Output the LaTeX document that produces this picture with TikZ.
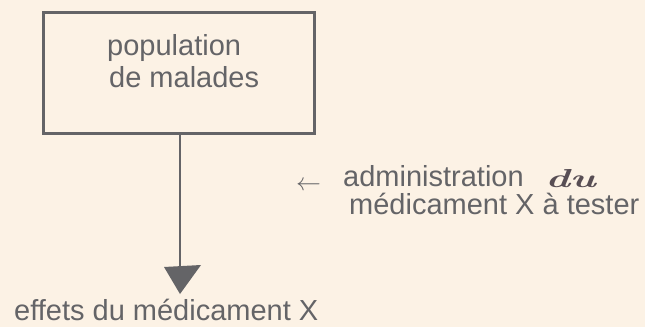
\documentclass[tikz,border=0pt]{standalone}
\usepackage{fontspec}
\setmainfont{Liberation Sans}
\newfontfamily\handfont{Latin Modern Roman}
\definecolor{paper}{RGB}{252,242,229}
\definecolor{ink}{RGB}{100,100,103}
\definecolor{pen}{RGB}{88,78,84}
\begin{document}
\begin{tikzpicture}[x=1pt,y=-1pt,
  label/.style={anchor=base west,inner sep=0pt,text=ink,font=\fontsize{29}{34}\selectfont},
  frame/.style={draw=ink,line width=3pt},
  flow/.style={draw=ink,line width=2.2pt}]
  % paper background fixes the picture size
  \fill[paper] (0,0) rectangle (645,327);
  \useasboundingbox (0,0) rectangle (645,327);

  % population box
  \node[frame,minimum width=271pt,minimum height=121pt,anchor=north west,inner sep=0pt] (pop) at (42,11) {};
  \node[label] (t1) at (107,55) {population};
  \node[label] (t2) at (109,87) {de malades};

  % effects label and arrow
  \node[label] (eff) at (14,320) {effets du médicament X};
  \coordinate (tip) at (180,294);
  \coordinate (neck) at (180,268);
  \draw[flow] (pop.south -| neck) -- (neck);
  \fill[ink] (164,267) -- (201,265) -- (tip) -- cycle;

  % treatment annotation
  \node[anchor=base west,inner sep=0pt,text=ink,font=\fontsize{26}{30}\selectfont] (arr) at (296,190) {$\leftarrow$};
  \node[label] (adm) at (343,186) {administration};
  \node[anchor=base west,inner sep=0pt,text=pen,xscale=1.6,font=\handfont\bfseries\itshape\fontsize{26}{30}\selectfont] (du) at (545,187) {du};
  \node[label] (med) at (349,214) {médicament X à tester};
\end{tikzpicture}
\end{document}
